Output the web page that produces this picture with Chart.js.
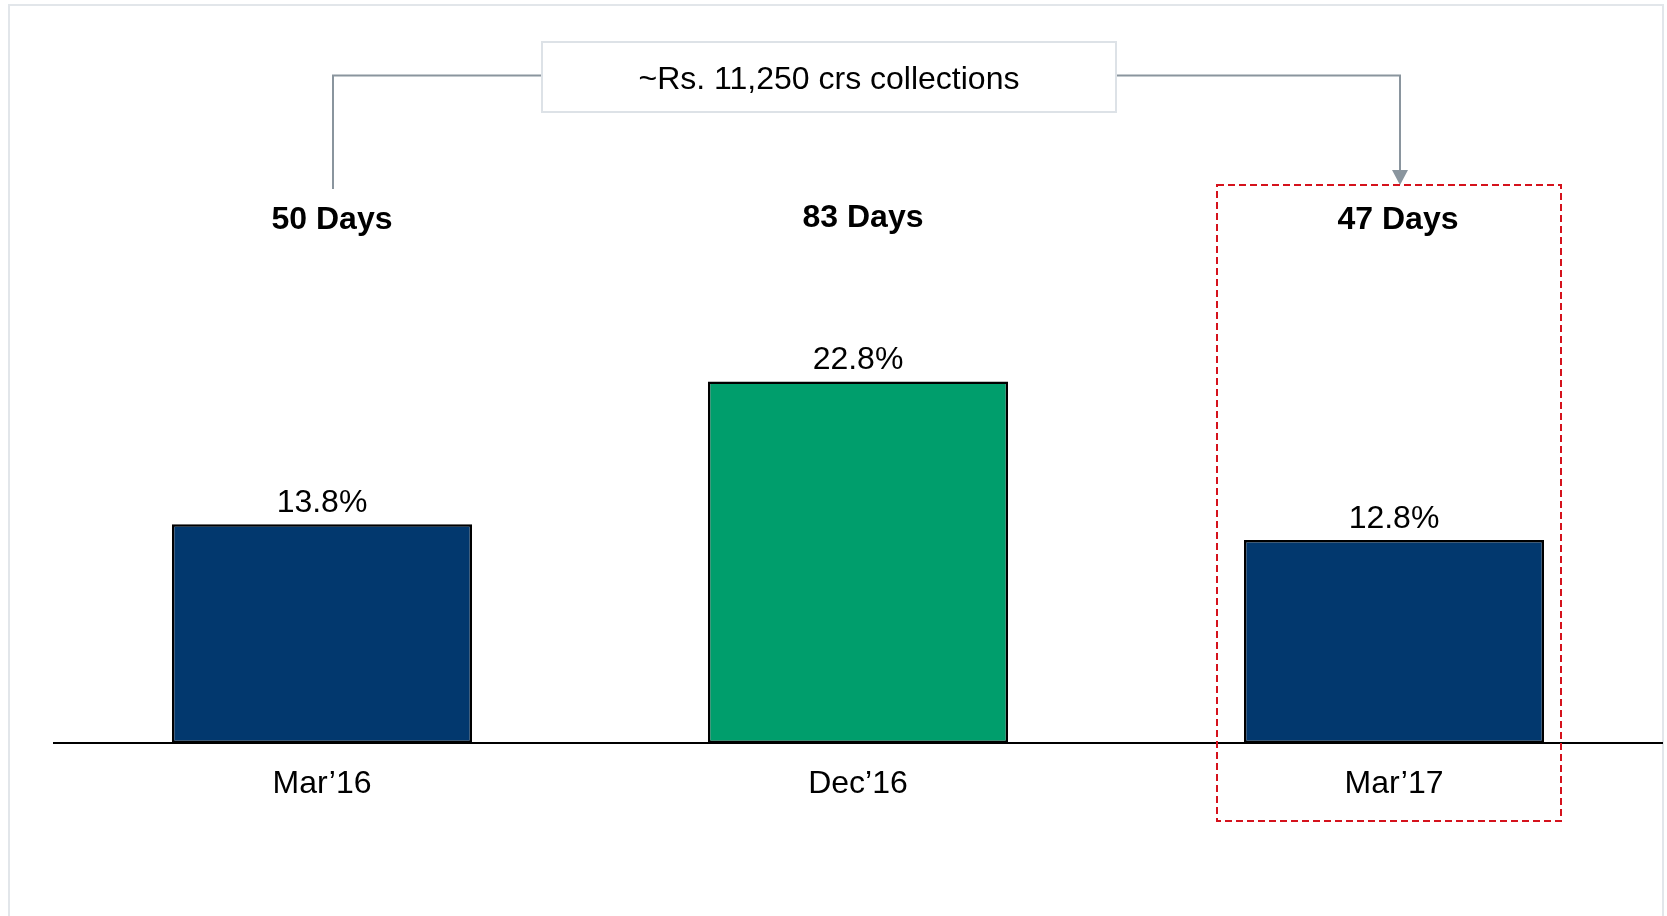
<!DOCTYPE html>
<html><head><meta charset="utf-8">
<script src="https://cdn.jsdelivr.net/npm/chart.js@4.4.1/dist/chart.umd.min.js"></script>
<style>
html,body{margin:0;padding:0;background:#fff;width:1667px;height:916px;overflow:hidden;}
#frame{position:absolute;left:8px;top:4px;width:1652px;height:1000px;border:2px solid #e2e6ea;}
#wrap{position:absolute;left:0;top:0;width:1667px;height:916px;}
</style></head><body>
<div id="frame"></div>
<div id="wrap"><canvas id="c" width="1667" height="916"></canvas></div>
<script>
const categories = ["Mar\u201916", "Dec\u201916", "Mar\u201917"];
const ratioValues = [13.8, 22.8, 12.8];
const dayValues = [50, 83, 47];
const barColors = ["#02386e", "#009e6c", "#02386e"];
const calloutText = "~Rs. 11,250 crs collections";

const FONT = "'Liberation Sans', Arial, Helvetica, sans-serif";

const labelPlugin = {
  id: 'labels',
  afterDatasetsDraw(chart) {
    const ctx = chart.ctx;
    const meta = chart.getDatasetMeta(0);
    ctx.save();
    ctx.fillStyle = '#000';
    ctx.textAlign = 'center';
    ctx.textBaseline = 'alphabetic';
    ctx.font = '32px ' + FONT;
    meta.data.forEach((bar, i) => {
      ctx.fillText(ratioValues[i].toFixed(1) + '%', bar.x, bar.y - 12.5);
    });
    ctx.restore();
  },
  afterDraw(chart) {
    const ctx = chart.ctx;
    const xs = chart.scales.x;
    const xA = xs.getPixelForValue(0), xC = xs.getPixelForValue(2);
    ctx.save();
    // days labels
    const dx = [10, 5, 4], by = [229, 227, 229];
    ctx.fillStyle = '#000';
    ctx.textAlign = 'center';
    ctx.textBaseline = 'alphabetic';
    ctx.font = 'bold 32px ' + FONT;
    dayValues.forEach((d, i) => {
      ctx.fillText(d + ' Days', xs.getPixelForValue(i) + dx[i], by[i]);
    });
    // connector
    const lx = xA + 11, rx = xC + 6, ly = 75.5;
    const boxL = 542, boxR = 1116, boxT = 42, boxB = 112;
    ctx.strokeStyle = '#8a959e';
    ctx.lineWidth = 2;
    ctx.beginPath();
    ctx.moveTo(lx, 189); ctx.lineTo(lx, ly); ctx.lineTo(boxL, ly);
    ctx.moveTo(boxR, ly); ctx.lineTo(rx, ly); ctx.lineTo(rx, 172);
    ctx.stroke();
    ctx.fillStyle = '#8a959e';
    ctx.beginPath();
    ctx.moveTo(rx - 8, 170); ctx.lineTo(rx + 8, 170); ctx.lineTo(rx, 185); ctx.closePath();
    ctx.fill();
    // callout box
    ctx.fillStyle = '#fff';
    ctx.fillRect(boxL, boxT, boxR - boxL, boxB - boxT);
    ctx.strokeStyle = '#dde2e7';
    ctx.lineWidth = 2;
    ctx.strokeRect(boxL, boxT, boxR - boxL, boxB - boxT);
    ctx.fillStyle = '#000';
    ctx.font = '32px ' + FONT;
    ctx.fillText(calloutText, (boxL + boxR) / 2, 89);
    // red dashed highlight
    ctx.strokeStyle = '#d5121c';
    ctx.lineWidth = 2;
    ctx.setLineDash([7, 4]);
    ctx.strokeRect(xC - 177, 185, 344, 636);
    ctx.restore();
  }
};

new Chart(document.getElementById('c'), {
  type: 'bar',
  data: {
    labels: categories,
    datasets: [{
      data: ratioValues,
      backgroundColor: barColors,
      borderColor: '#000',
      borderWidth: 2.5,
      borderSkipped: false,
      categoryPercentage: 1,
      barPercentage: 0.56
    }]
  },
  options: {
    responsive: false,
    animation: false,
    devicePixelRatio: 1,
    layout: { padding: { left: 54, right: 5, top: 109, bottom: 0 } },
    plugins: { legend: { display: false }, tooltip: { enabled: false } },
    scales: {
      x: {
        grid: { display: false, drawTicks: false },
        border: { display: true, color: '#000', width: 2 },
        ticks: { color: '#000', font: { family: FONT, size: 32 }, padding: 22 },
        afterFit(s) { s.height = 173; }
      },
      y: { display: false, min: 0, max: 40 }
    }
  },
  plugins: [labelPlugin]
});
</script>
</body></html>
